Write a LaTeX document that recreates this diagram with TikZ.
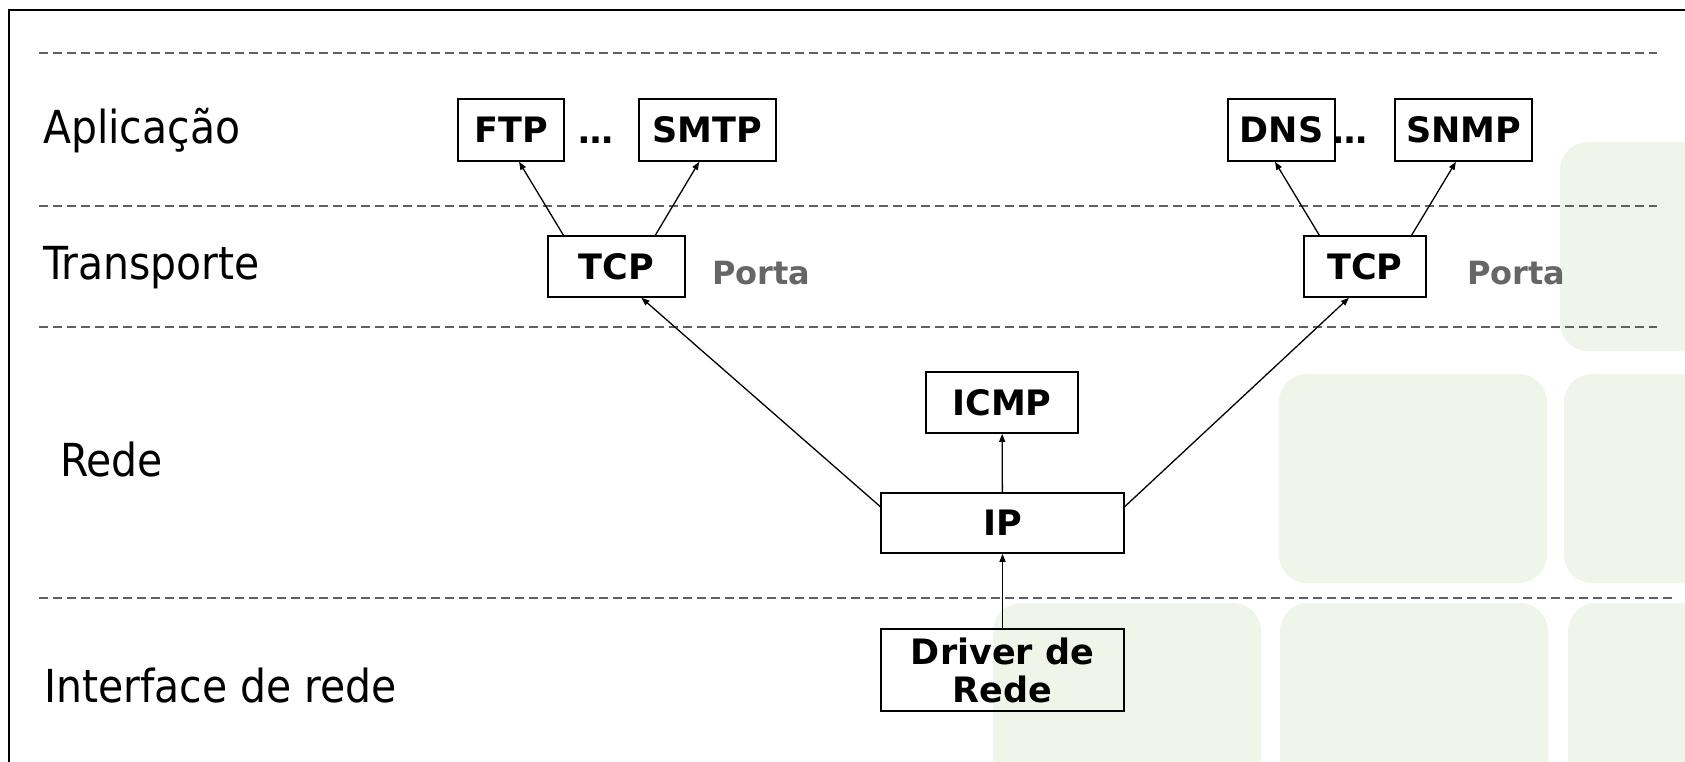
\documentclass[tikz,border=0pt]{standalone}
\usepackage{fontspec}
\setmainfont{DejaVu Sans}
\newfontfamily\condfont{DejaVu Sans Condensed}
\usetikzlibrary{arrows.meta,calc}
\definecolor{verde}{RGB}{239,246,233}
\definecolor{cinza}{RGB}{102,102,102}
\definecolor{traco}{RGB}{96,96,96}
\tikzset{
    camada/.style={anchor=base west,inner sep=0pt,font=\condfont\fontsize{45.5}{50}\selectfont},
    caixa/.style={draw,line width=1.6pt,inner sep=0pt,align=center,font=\bfseries\fontsize{35}{38}\selectfont},
    porta/.style={anchor=base west,inner sep=0pt,text=cinza,font=\bfseries\fontsize{32}{36}\selectfont},
    pontos/.style={anchor=base,inner sep=0pt,font=\bfseries\fontsize{35}{38}\selectfont},
    seta/.style={-{Triangle[length=8pt,width=6pt]},line width=1.3pt}
}
\begin{document}
\begin{tikzpicture}[x=1pt,y=-1pt]
    \useasboundingbox (0,0) rectangle (1685,761);
    %Fundo
    \foreach \x/\y in {1560/142,1279/374,1564/374,993/603,1280/603,1568/603}{
        \fill[verde,rounded corners=28pt] (\x,\y) rectangle ++(268,209);
    }
    \draw[line width=2pt] (9,10) rectangle (1720,800);

    %Linhas das camadas
    \foreach \y in {53,206,327}{
        \draw[traco,line width=1.5pt,dash pattern=on 9pt off 5pt] (39,\y) -- (1657,\y);
    }
    \draw[traco,line width=1.5pt,dash pattern=on 9pt off 5pt] (39,598) -- (1673,598);

    %Camadas
    \node[camada] (apl) at (43,143) {Aplicação};
    \node[camada] (tra) at (43,279) {Transporte};
    \node[camada] (red) at (60,476) {Rede};
    \node[camada] (int) at (44,702) {Interface de rede};

    %Protocolos
    \node[caixa,minimum width=106pt,minimum height=62pt] (ftp) at (511,130) {FTP};
    \node[caixa,minimum width=137pt,minimum height=62pt] (smtp) at (707.5,130) {SMTP};
    \node[caixa,minimum width=107pt,minimum height=62pt] (dns) at (1281.5,130) {DNS};
    \node[caixa,minimum width=137pt,minimum height=62pt] (snmp) at (1463.5,130) {SNMP};
    \node[pontos] (ptsA) at (595.5,143) {…};
    \node[pontos] (ptsB) at (1349.5,143) {…};
    \node[caixa,minimum width=137pt,minimum height=61pt] (tcpA) at (616.5,266.5) {TCP};
    \node[caixa,minimum width=122pt,minimum height=61pt] (tcpB) at (1365,266.5) {TCP};
    \node[porta] (portaA) at (712,284) {Porta};
    \node[porta] (portaB) at (1467,284) {Porta};
    \node[caixa,minimum width=152pt,minimum height=61pt] (icmp) at (1002,402.5) {ICMP};
    \node[caixa,minimum width=243pt,minimum height=60pt] (ip) at (1002.5,523) {IP};
    \node[caixa,minimum width=243pt,minimum height=82pt] (drv) at (1002.5,670) {Driver de\\Rede};

    %Setas
    \draw[seta] ($(tcpA.north west)!0.117!(tcpA.north east)$) -- ($(ftp.south west)!0.575!(ftp.south east)$);
    \draw[seta] ($(tcpA.north west)!0.78!(tcpA.north east)$) -- ($(smtp.south west)!0.44!(smtp.south east)$);
    \draw[seta] ($(tcpB.north west)!0.13!(tcpB.north east)$) -- ($(dns.south west)!0.44!(dns.south east)$);
    \draw[seta] ($(tcpB.north west)!0.877!(tcpB.north east)$) -- ($(snmp.south west)!0.445!(snmp.south east)$);
    \draw[seta] ($(ip.north west)!0.233!(ip.south west)$) -- ($(tcpA.south west)!0.68!(tcpA.south east)$);
    \draw[seta] ($(ip.north east)!0.233!(ip.south east)$) -- ($(tcpB.south west)!0.37!(tcpB.south east)$);
    \draw[seta] (ip) -- (icmp);
    \draw[seta] (drv) -- (ip);
\end{tikzpicture}
\end{document}
